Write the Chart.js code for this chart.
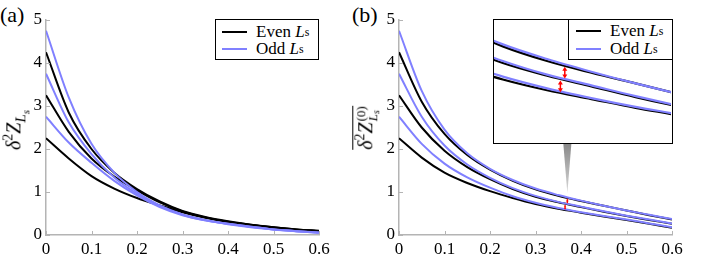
<!DOCTYPE html>
<html><head><meta charset="utf-8">
<script src="https://cdn.jsdelivr.net/npm/chart.js@4.4.0/dist/chart.umd.min.js"></script>
<style>
body{margin:0;background:#fff;width:706px;height:265px;position:relative;overflow:hidden;font-family:"Liberation Serif","Times New Roman",serif;color:#000}
canvas{display:block}
.box{position:absolute}
.legend{position:absolute;background:#fff;border:1px solid #000;box-sizing:border-box;font-size:17px;z-index:5}
.row{position:absolute;left:0;height:18px;display:flex;align-items:center;white-space:nowrap}
.sw{display:inline-block;width:25px;height:2px;margin-left:6px;margin-right:9px}
.ylab{position:absolute;transform:translate(-50%,-50%) rotate(-90deg);white-space:nowrap;font-size:20px;line-height:22px}
.plab{position:absolute;font-size:22px;line-height:22px}
sub{font-size:70%;vertical-align:-0.35em;line-height:0}
sup{font-size:70%;vertical-align:0.55em;line-height:0}
</style></head>
<body>
<div class="plab" style="left:0px;top:4px">(a)</div>
<div class="plab" style="left:352px;top:4px">(b)</div>

<div class="box" style="left:0;top:0;width:340px;height:265px"><canvas id="ca" width="340" height="265"></canvas></div>
<div class="box" style="left:353px;top:0;width:353px;height:265px"><canvas id="cb" width="353" height="265"></canvas></div>
<div class="box" id="insetBox" style="left:493px;top:19px;width:180px;height:125px;border:1.5px solid #000;box-sizing:border-box;background:#fff;overflow:hidden;z-index:3">
  <canvas id="ci" width="177" height="122"></canvas>
</div>

<div class="ylab" style="left:14px;top:130px"><i>δ</i><sup>2</sup><i>Z</i><sub style="font-size:75%"><i>L<sub style="font-size:75%">s</sub></i></sub></div>
<div class="ylab" style="left:366px;top:128px"><span style="display:inline-block;border-top:1px solid #000;padding-top:1px"><i>δ</i><sup>2</sup><i>Z</i><span style="display:inline-flex;flex-direction:column;vertical-align:middle;font-size:13px;line-height:12px;margin-left:1px"><span>(0)</span><span><i>L</i><sub style="font-size:10px;vertical-align:-0.2em"><i>s</i></sub></span></span></span></div>

<div class="legend" style="left:215px;top:19px;width:104px;height:41px">
  <div class="row" style="top:3px"><span class="sw" style="background:#000"></span>Even&nbsp;<i>L</i><sub>s</sub></div>
  <div class="row" style="top:20px"><span class="sw" style="background:rgb(128,128,255)"></span>Odd&nbsp;<i>L</i><sub>s</sub></div>
</div>
<div class="legend" style="left:568px;top:19px;width:105px;height:41px">
  <div class="row" style="top:2px"><span class="sw" style="background:#000;margin-left:7px"></span>Even&nbsp;<i>L</i><sub>s</sub></div>
  <div class="row" style="top:20px"><span class="sw" style="background:rgb(128,128,255);margin-left:7px"></span>Odd&nbsp;<i>L</i><sub>s</sub></div>
</div>

<script>
// ---------------- data ----------------
const xValues = [0, 0.05, 0.1, 0.15, 0.2, 0.25, 0.3, 0.35, 0.4, 0.45, 0.5, 0.55, 0.6];
const xTicks = [0, 0.1, 0.2, 0.3, 0.4, 0.5, 0.6];
const yTicks = [0, 1, 2, 3, 4, 5];

// panel (a): delta^2 Z_{L_s}
const aEven1 = [4.25, 2.85, 2.00, 1.45, 1.07, 0.78, 0.56, 0.42, 0.32, 0.24, 0.18, 0.13, 0.10];
const aEven2 = [3.25, 2.40, 1.78, 1.36, 1.04, 0.76, 0.55, 0.41, 0.31, 0.24, 0.18, 0.13, 0.09];
const aEven3 = [2.25, 1.78, 1.37, 1.08, 0.86, 0.69, 0.53, 0.40, 0.30, 0.23, 0.17, 0.12, 0.09];
const aOdd1  = [4.75, 3.20, 2.12, 1.45, 1.00, 0.69, 0.48, 0.35, 0.26, 0.19, 0.13, 0.09, 0.06];
const aOdd2  = [3.75, 2.62, 1.88, 1.34, 0.96, 0.67, 0.47, 0.34, 0.26, 0.19, 0.13, 0.09, 0.05];
const aOdd3  = [2.75, 2.15, 1.68, 1.26, 0.92, 0.65, 0.46, 0.34, 0.25, 0.18, 0.13, 0.09, 0.05];

// panel (b): overline{delta^2 Z^{(0)}_{L_s}}
const bEven1 = [4.25, 3.10, 2.35, 1.86, 1.52, 1.26, 1.06, 0.91, 0.79, 0.68, 0.57, 0.46, 0.36];
const bEven2 = [3.25, 2.50, 1.96, 1.58, 1.30, 1.07, 0.89, 0.76, 0.65, 0.54, 0.44, 0.35, 0.26];
const bEven3 = [2.25, 1.80, 1.45, 1.21, 1.02, 0.86, 0.72, 0.61, 0.52, 0.43, 0.35, 0.26, 0.17];
const bOdd1  = [4.75, 3.35, 2.45, 1.90, 1.54, 1.28, 1.08, 0.93, 0.80, 0.68, 0.57, 0.47, 0.37];
const bOdd2  = [3.75, 2.75, 2.08, 1.64, 1.33, 1.09, 0.91, 0.77, 0.66, 0.55, 0.45, 0.36, 0.27];
const bOdd3  = [2.75, 2.12, 1.66, 1.34, 1.10, 0.90, 0.75, 0.63, 0.53, 0.44, 0.36, 0.27, 0.18];

// red double arrows (gaps between even/odd pairs)
const arrowX      = [0.37, 0.365];
const arrowTop    = [0.85, 0.71];
const arrowBottom = [0.73, 0.59];
// inset window
const insetX = [0.29, 0.49];
const insetY = [0.08, 1.33];
// pointer tip (data coords in panel b)
const pointerTip = [0.37, 0.97];

// ---------------- styling ----------------
const BLACK = '#000';
const PURPLE = 'rgb(128,128,255)';
const AXIS = '#b4b4b4';
const FONT = {family: '"Liberation Serif", "Times New Roman", serif', size: 17};

function pts(ys){ return xValues.map((x,i)=>({x:x, y:ys[i]})); }
function ds(ys, color, order, w){
  return {data: pts(ys), borderColor: color, borderWidth: w, pointRadius: 0, order: order,
          fill:false, cubicInterpolationMode: 'monotone'};
}

const inwardTicks = {
  id: 'inwardTicks',
  afterDraw(chart){
    const {ctx, chartArea: a, scales: {x, y}} = chart;
    ctx.save(); ctx.strokeStyle = AXIS; ctx.lineWidth = 1;
    x.ticks.forEach(t => { const p = Math.round(x.getPixelForValue(t.value)) + 0.5;
      ctx.beginPath(); ctx.moveTo(p, a.bottom); ctx.lineTo(p, a.bottom - 4); ctx.stroke(); });
    y.ticks.forEach(t => { const p = Math.round(y.getPixelForValue(t.value)) + 0.5;
      ctx.beginPath(); ctx.moveTo(a.left, p); ctx.lineTo(a.left + 4, p); ctx.stroke(); });
    ctx.restore();
  }
};

function dblArrow(ctx, x, y1, y2, head, w){
  ctx.beginPath(); ctx.moveTo(x, y1 + head*0.6); ctx.lineTo(x, y2 - head*0.6); ctx.stroke();
  ctx.beginPath(); ctx.moveTo(x, y1); ctx.lineTo(x - w, y1 + head); ctx.lineTo(x + w, y1 + head); ctx.closePath(); ctx.fill();
  ctx.beginPath(); ctx.moveTo(x, y2); ctx.lineTo(x - w, y2 - head); ctx.lineTo(x + w, y2 - head); ctx.closePath(); ctx.fill();
}

function baseOptions(padRight){
  return {
    responsive: false, animation: false, events: [],
    layout: {padding: {left: 0, top: 20, right: padRight, bottom: 0}},
    plugins: {legend: {display: false}, tooltip: {enabled: false}},
    scales: {
      x: {type: 'linear', min: 0, max: 0.6,
          afterBuildTicks: s => { s.ticks = xTicks.map(v => ({value: v})); },
          afterFit: s => { s.height = 30; },
          grid: {display: false, drawTicks: false},
          border: {display: true, color: AXIS, width: 1.5},
          ticks: {font: FONT, color: '#000', padding: 4, maxRotation: 0,
                  callback: v => v === 0 ? '0' : v.toFixed(1)}},
      y: {type: 'linear', min: 0, max: 5,
          afterBuildTicks: s => { const t=[]; for (let i=0;i<=10;i++) t.push({value: i*0.5}); s.ticks = t; },
          afterFit: s => { s.width = 46; },
          grid: {display: false, drawTicks: false},
          border: {display: true, color: AXIS, width: 1.5},
          ticks: {font: FONT, color: '#000', padding: 4,
                  callback: v => yTicks.includes(v) ? String(v) : ''}}
    }
  };
}

// panel (a)
new Chart(document.getElementById('ca'), {
  type: 'line',
  data: {datasets: [
    ds(aEven1, BLACK, 2, 2), ds(aEven2, BLACK, 2, 2), ds(aEven3, BLACK, 2, 2),
    ds(aOdd1, PURPLE, 1, 2), ds(aOdd2, PURPLE, 1, 2), ds(aOdd3, PURPLE, 1, 2)
  ]},
  options: baseOptions(21),
  plugins: [inwardTicks]
});

// panel (b)
const annotB = {
  id: 'annotB',
  afterDraw(chart){
    const {ctx, scales: {x, y}} = chart;
    ctx.save();
    const tipX = x.getPixelForValue(pointerTip[0]);
    const tipY = y.getPixelForValue(pointerTip[1]);
    const baseY = 144; // bottom of inset box
    const g = ctx.createLinearGradient(0, baseY, 0, tipY);
    g.addColorStop(0, '#8a8a8a'); g.addColorStop(1, '#d8d8d8');
    ctx.fillStyle = g;
    ctx.beginPath(); ctx.moveTo(tipX - 4, baseY); ctx.lineTo(tipX + 4, baseY); ctx.lineTo(tipX, tipY); ctx.closePath(); ctx.fill();
    ctx.strokeStyle = '#f00'; ctx.fillStyle = '#f00'; ctx.lineWidth = 1.3;
    arrowX.forEach((ax, i) => dblArrow(ctx, x.getPixelForValue(ax), y.getPixelForValue(arrowTop[i]), y.getPixelForValue(arrowBottom[i]), 2, 1.2));
    ctx.restore();
  }
};
new Chart(document.getElementById('cb'), {
  type: 'line',
  data: {datasets: [
    ds(bEven1, BLACK, 2, 2), ds(bEven2, BLACK, 2, 2), ds(bEven3, BLACK, 2, 2),
    ds(bOdd1, PURPLE, 1, 2), ds(bOdd2, PURPLE, 1, 2), ds(bOdd3, PURPLE, 1, 2)
  ]},
  options: baseOptions(34),
  plugins: [inwardTicks, annotB]
});

// inset
const annotI = {
  id: 'annotI',
  afterDatasetsDraw(chart){
    const {ctx, scales: {x, y}} = chart;
    ctx.save(); ctx.strokeStyle = '#f00'; ctx.fillStyle = '#f00'; ctx.lineWidth = 1.5;
    arrowX.forEach((ax, i) => dblArrow(ctx, x.getPixelForValue(ax), y.getPixelForValue(arrowTop[i]), y.getPixelForValue(arrowBottom[i]), 4, 2.5));
    ctx.restore();
  }
};
new Chart(document.getElementById('ci'), {
  type: 'line',
  data: {datasets: [
    ds(bEven1, BLACK, 2, 2.2), ds(bEven2, BLACK, 2, 2.2), ds(bEven3, BLACK, 2, 2.2),
    ds(bOdd1, PURPLE, 1, 2.2), ds(bOdd2, PURPLE, 1, 2.2), ds(bOdd3, PURPLE, 1, 2.2)
  ]},
  options: {
    responsive: false, animation: false, events: [],
    layout: {padding: 0},
    plugins: {legend: {display: false}, tooltip: {enabled: false}},
    scales: {
      x: {type: 'linear', min: insetX[0], max: insetX[1], display: false},
      y: {type: 'linear', min: insetY[0], max: insetY[1], display: false}
    }
  },
  plugins: [annotI]
});
</script>
</body></html>
